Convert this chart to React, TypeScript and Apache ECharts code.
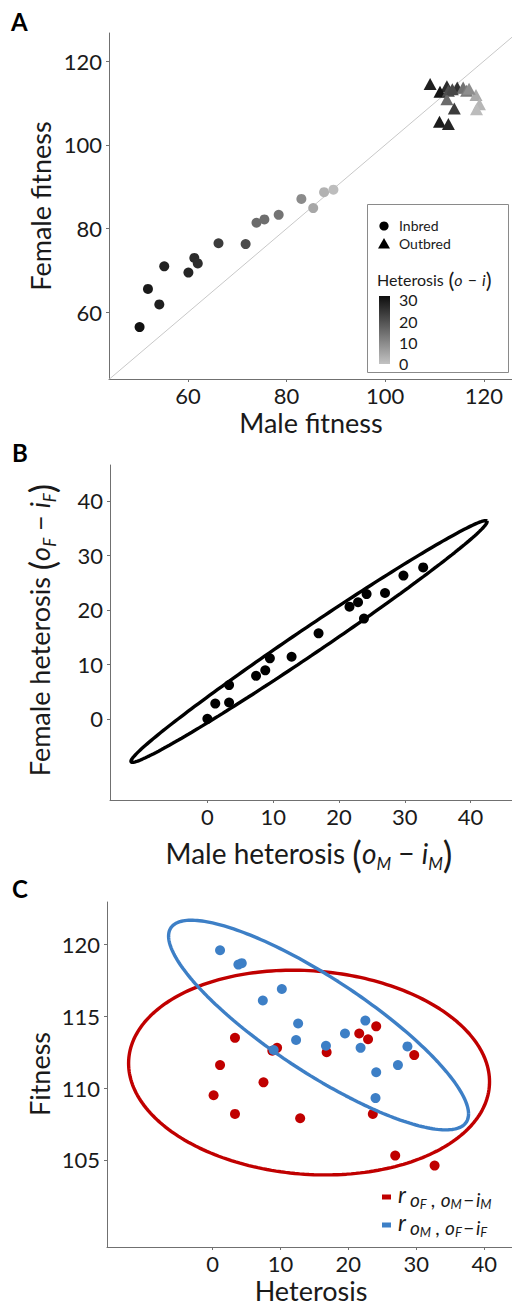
import React, { useEffect, useRef } from "react";
import * as echarts from "echarts";

const FONT = "Lato";
const INK = "#1a1a1a";
const AXIS_GREY = "#707070";

// ---------- Panel A : fitness of inbred (circles) and outbred (triangles) lines
const inbredMaleFitness = [50.2, 51.9, 54.2, 55.2, 60.1, 61.3, 62.0, 66.2, 71.7, 73.9, 75.5, 78.4, 83.0, 85.4, 87.6, 89.5];
const inbredFemaleFitness = [56.5, 65.6, 61.9, 71.0, 69.5, 73.0, 71.7, 76.5, 76.3, 81.4, 82.2, 83.3, 87.1, 84.9, 88.7, 89.3];
const inbredHeterosis = [30.5, 29, 28, 27.5, 27, 26, 25.5, 23, 20.5, 15, 14.5, 13.5, 9.5, 4.7, 2.8, 0.9];
const outbredMaleFitness = [109.1, 112.5, 111.1, 114.6, 112.8, 115.8, 116.5, 118.4, 119.1, 118.5, 112.5, 114.0, 111.0, 112.8, 113.6, 117.0];
const outbredFemaleFitness = [114.5, 114.0, 112.7, 113.7, 112.9, 113.7, 112.9, 111.9, 109.7, 108.5, 110.9, 108.7, 105.5, 105.0, 113.3, 113.4];
const outbredHeterosis = [28, 26, 30, 25, 20, 14, 12, 4, 2, 1, 15, 23, 29, 27, 21, 9];
const fitnessTicksA = [60, 80, 100, 120];
const diagonalA = [44, 127];
const colorbarTicks = [30, 20, 10, 0];

// ---------- Panel B : male vs female heterosis
const maleHeterosis = [32.8, 29.8, 27.0, 24.2, 22.9, 21.6, 23.8, 16.9, 12.8, 9.5, 8.8, 7.4, 3.3, 1.2, 3.3, 0.0];
const femaleHeterosis = [27.8, 26.3, 23.1, 22.9, 21.4, 20.6, 18.4, 15.7, 11.4, 11.1, 8.9, 7.9, 6.2, 2.8, 3.0, 0.0];
const heterosisTicks = [0, 10, 20, 30, 40];
const ellipseBCenter = [15.45, 14.2];
const ellipseBAxis1 = [27.05, 22.1];
const ellipseBAxis2 = [1.11, -1.98];

// ---------- Panel C : fitness vs heterosis
const redHeterosis = [3.3, 8.8, 9.5, 16.8, 21.6, 22.9, 24.1, 29.7, 1.1, 7.5, 0.15, 3.3, 12.9, 23.6, 26.9, 32.7];
const redFitness = [113.5, 112.6, 112.8, 112.5, 113.8, 113.4, 114.3, 112.3, 111.6, 110.4, 109.5, 108.2, 107.9, 108.2, 105.3, 104.6];
const blueHeterosis = [1.1, 3.8, 4.3, 7.4, 10.2, 12.6, 12.3, 9.0, 16.7, 19.5, 22.5, 21.8, 28.7, 27.3, 24.1, 24.0];
const blueFitness = [119.6, 118.6, 118.7, 116.1, 116.9, 114.5, 113.35, 112.65, 112.95, 113.8, 114.7, 112.8, 112.9, 111.6, 111.1, 109.3];
const fitnessTicksC = [105, 110, 115, 120];
const ellipseRedCenter = [14.21, 111.08];
const ellipseRedAxis1 = [26.58, -0.64];
const ellipseRedAxis2 = [0, 7.1];
const ellipseBlueCenter = [15.61, 114.39];
const ellipseBlueAxis1 = [22.09, -6.19];
const ellipseBlueAxis2 = [0, 3.87];

const RED = "#c00000";
const BLUE = "#3d7fc6";

function ellipsePoints(c: number[], a: number[], b: number[], n = 240) {
  const pts: number[][] = [];
  for (let i = 0; i <= n; i++) {
    const t = (2 * Math.PI * i) / n;
    pts.push([c[0] + a[0] * Math.cos(t) + b[0] * Math.sin(t), c[1] + a[1] * Math.cos(t) + b[1] * Math.sin(t)]);
  }
  return pts;
}

type Piece = { t: string; size: number; italic?: boolean; bold?: boolean; dy?: number };

let measureCtx: CanvasRenderingContext2D | null = null;
function textWidth(t: string, font: string) {
  if (!measureCtx) measureCtx = document.createElement("canvas").getContext("2d");
  measureCtx!.font = font;
  return measureCtx!.measureText(t).width;
}

function mathText(
  pieces: Piece[],
  x: number,
  y: number,
  opts: { rotate?: boolean; align?: "left" | "center"; color?: string } = {}
) {
  const fonts = pieces.map((p) => `${p.italic ? "italic " : ""}${p.bold ? "bold " : ""}${p.size}px ${FONT}`);
  const widths = pieces.map((p, i) => textWidth(p.t, fonts[i]));
  const total = widths.reduce((s, w) => s + w, 0);
  let cx = opts.align === "left" ? 0 : -total / 2;
  const children: any[] = [];
  pieces.forEach((p, i) => {
    if (p.t.trim() !== "") {
      children.push({
        type: "text",
        x: cx,
        y: (p.dy || 0) - 0.38 * p.size,
        style: { text: p.t, font: fonts[i], fill: opts.color || INK, align: "left", verticalAlign: "middle" },
      });
    }
    cx += widths[i];
  });
  return { type: "group", x, y, rotation: opts.rotate ? Math.PI / 2 : 0, children, silent: true };
}

function valueAxis(gridIndex: number, min: number, max: number, ticks: number[], isX: boolean) {
  return {
    type: "value",
    gridIndex,
    min,
    max,
    splitLine: { show: false },
    axisLine: { show: true, onZero: false, lineStyle: { color: AXIS_GREY, width: 1 } },
    axisTick: { show: true, length: 3, lineStyle: { color: AXIS_GREY }, customValues: ticks },
    axisLabel: {
      customValues: ticks,
      fontFamily: FONT,
      fontSize: 22,
      color: INK,
      margin: isX ? 5 : 7,
    },
  };
}

// r with a nested subscript, e.g. r_{o_F, o_M - i_M}
function legendCRow(first: string, second: string, baseline: number) {
  return mathText(
    [
      { t: "r", size: 23, italic: true },
      { t: " ", size: 16 },
      { t: "o", size: 19, italic: true, dy: 4 },
      { t: first, size: 13, italic: true, dy: 6 },
      { t: " ", size: 16 },
      { t: ",", size: 19, dy: 4 },
      { t: " ", size: 22 },
      { t: "o", size: 19, italic: true, dy: 4 },
      { t: second, size: 13, italic: true, dy: 6 },
      { t: " ", size: 6 },
      { t: "−", size: 19, dy: 4 },
      { t: " ", size: 6 },
      { t: "i", size: 19, italic: true, dy: 4 },
      { t: second, size: 13, italic: true, dy: 6 },
    ],
    398,
    baseline,
    { align: "left" }
  );
}

function buildOption() {
  const inbredData = inbredMaleFitness.map((m, i) => [m, inbredFemaleFitness[i], inbredHeterosis[i]]);
  const outbredData = outbredMaleFitness.map((m, i) => [m, outbredFemaleFitness[i], outbredHeterosis[i]]);
  const bData = maleHeterosis.map((m, i) => [m, femaleHeterosis[i]]);
  const redData = redHeterosis.map((h, i) => [h, redFitness[i]]);
  const blueData = blueHeterosis.map((h, i) => [h, blueFitness[i]]);

  const sub = (t: string, dy = 6): Piece => ({ t, size: 17, italic: true, dy });

  const graphic: any[] = [
    // panel letters
    mathText([{ t: "A", size: 24, bold: true }], 11, 31, { align: "left", color: "#000" }),
    mathText([{ t: "B", size: 24, bold: true }], 12, 462, { align: "left", color: "#000" }),
    mathText([{ t: "C", size: 24, bold: true }], 12, 898, { align: "left", color: "#000" }),
    // axis titles A
    mathText([{ t: "Female fitness", size: 27 }], 51, 206, { rotate: true }),
    mathText([{ t: "Male fitness", size: 27 }], 311, 433),
    // axis titles B
    mathText(
      [
        { t: "Female heterosis", size: 27 },
        { t: " ", size: 27 },
        { t: "(", size: 35, dy: 4 },
        { t: "o", size: 27, italic: true },
        sub("F"),
        { t: " ", size: 27 },
        { t: "−", size: 27 },
        { t: " ", size: 27 },
        { t: "i", size: 27, italic: true },
        sub("F"),
        { t: ")", size: 35, dy: 4 },
      ],
      50,
      630,
      { rotate: true }
    ),
    mathText(
      [
        { t: "Male heterosis", size: 28 },
        { t: " ", size: 28 },
        { t: "(", size: 36, dy: 4 },
        { t: "o", size: 28, italic: true },
        sub("M"),
        { t: " ", size: 28 },
        { t: "−", size: 28 },
        { t: " ", size: 28 },
        { t: "i", size: 28, italic: true },
        sub("M"),
        { t: ")", size: 36, dy: 4 },
      ],
      309,
      864
    ),
    // axis titles C
    mathText([{ t: "Fitness", size: 27 }], 50, 1074, { rotate: true }),
    mathText([{ t: "Heterosis", size: 27 }], 311, 1301),
    // legend A
    {
      type: "rect",
      shape: { x: 367.5, y: 204.5, width: 141, height: 168 },
      style: { fill: "#fff", stroke: "#8a8a8a", lineWidth: 1 },
      silent: true,
    },
    { type: "circle", shape: { cx: 384, cy: 226, r: 4.6 }, style: { fill: "#000" }, silent: true },
    {
      type: "polygon",
      shape: { points: [[384, 238], [378, 248.5], [390, 248.5]] },
      style: { fill: "#000" },
      silent: true,
    },
    mathText([{ t: "Inbred", size: 14 }], 399, 231.3, { align: "left" }),
    mathText([{ t: "Outbred", size: 14 }], 399, 248.8, { align: "left" }),
    mathText(
      [
        { t: "Heterosis", size: 16 },
        { t: " ", size: 18 },
        { t: "(", size: 22, dy: 2 },
        { t: "o", size: 16, italic: true },
        { t: " ", size: 20 },
        { t: "−", size: 16 },
        { t: " ", size: 20 },
        { t: "i", size: 16, italic: true },
        { t: ")", size: 22, dy: 2 },
      ],
      377,
      286,
      { align: "left" }
    ),
    {
      type: "rect",
      shape: { x: 379, y: 296, width: 11, height: 68 },
      style: {
        fill: {
          type: "linear",
          x: 0,
          y: 0,
          x2: 0,
          y2: 1,
          colorStops: [
            { offset: 0, color: "#0e0e0e" },
            { offset: 1, color: "#c2c2c2" },
          ],
        },
      },
      silent: true,
    },
    ...colorbarTicks.map((v, i) => mathText([{ t: String(v), size: 16 }], 399, 306 + i * 21.3, { align: "left" })),
    // legend C
    { type: "line", shape: { x1: 382, y1: 1197, x2: 391, y2: 1197 }, style: { stroke: RED, lineWidth: 5 }, silent: true },
    { type: "line", shape: { x1: 382, y1: 1225, x2: 391, y2: 1225 }, style: { stroke: BLUE, lineWidth: 5 }, silent: true },
    legendCRow("F", "M", 1203),
    legendCRow("M", "F", 1231),
  ];

  return {
    animation: false,
    backgroundColor: "#ffffff",
    textStyle: { fontFamily: FONT },
    grid: [
      { left: 109, top: 33, width: 403, height: 346 },
      { left: 110, top: 465, width: 402, height: 335 },
      { left: 107, top: 902, width: 405, height: 345 },
    ],
    xAxis: [
      valueAxis(0, 44.0, 125.7, fitnessTicksA, true),
      valueAxis(1, -14.8, 46.3, heterosisTicks, true),
      valueAxis(2, -15.55, 44.1, heterosisTicks, true),
    ],
    yAxis: [
      valueAxis(0, 44.1, 126.7, fitnessTicksA, false),
      valueAxis(1, -14.9, 46.6, heterosisTicks, false),
      valueAxis(2, 98.93, 122.96, fitnessTicksC, false),
    ],
    visualMap: {
      type: "continuous",
      show: false,
      seriesIndex: [1, 2],
      dimension: 2,
      min: 0,
      max: 31,
      inRange: { color: ["#c2c2c2", "#0e0e0e"] },
    },
    series: [
      {
        type: "line",
        xAxisIndex: 0,
        yAxisIndex: 0,
        data: [
          [diagonalA[0], diagonalA[0]],
          [diagonalA[1], diagonalA[1]],
        ],
        showSymbol: false,
        symbol: "none",
        lineStyle: { color: "#c8c8c8", width: 1 },
        z: 1,
        silent: true,
      },
      {
        type: "scatter",
        xAxisIndex: 0,
        yAxisIndex: 0,
        data: inbredData,
        symbol: "circle",
        symbolSize: 10,
        itemStyle: { opacity: 1 },
        z: 3,
      },
      {
        type: "scatter",
        xAxisIndex: 0,
        yAxisIndex: 0,
        data: outbredData,
        symbol: "triangle",
        symbolSize: [13, 12],
        itemStyle: { opacity: 1 },
        z: 3,
      },
      {
        type: "scatter",
        xAxisIndex: 1,
        yAxisIndex: 1,
        data: bData,
        symbol: "circle",
        symbolSize: 10,
        itemStyle: { color: "#000", opacity: 1 },
        z: 3,
      },
      {
        type: "line",
        xAxisIndex: 1,
        yAxisIndex: 1,
        data: ellipsePoints(ellipseBCenter, ellipseBAxis1, ellipseBAxis2),
        showSymbol: false,
        symbol: "none",
        lineStyle: { color: "#000", width: 3.4 },
        z: 4,
        silent: true,
      },
      {
        type: "scatter",
        xAxisIndex: 2,
        yAxisIndex: 2,
        data: redData,
        symbol: "circle",
        symbolSize: 10,
        itemStyle: { color: RED, opacity: 1 },
        z: 3,
      },
      {
        type: "scatter",
        xAxisIndex: 2,
        yAxisIndex: 2,
        data: blueData,
        symbol: "circle",
        symbolSize: 10,
        itemStyle: { color: BLUE, opacity: 1 },
        z: 3,
      },
      {
        type: "line",
        xAxisIndex: 2,
        yAxisIndex: 2,
        data: ellipsePoints(ellipseRedCenter, ellipseRedAxis1, ellipseRedAxis2),
        showSymbol: false,
        symbol: "none",
        lineStyle: { color: RED, width: 3.4 },
        z: 4,
        silent: true,
      },
      {
        type: "line",
        xAxisIndex: 2,
        yAxisIndex: 2,
        data: ellipsePoints(ellipseBlueCenter, ellipseBlueAxis1, ellipseBlueAxis2),
        showSymbol: false,
        symbol: "none",
        lineStyle: { color: BLUE, width: 3.4 },
        z: 4,
        silent: true,
      },
    ],
    graphic,
  };
}

export default function App() {
  const ref = useRef<HTMLDivElement>(null);
  useEffect(() => {
    document.body.style.margin = "0";
    const chart = echarts.init(ref.current!, null, { renderer: "svg" });
    chart.setOption(buildOption() as any);
    return () => chart.dispose();
  }, []);
  return <div ref={ref} style={{ width: 512, height: 1306 }} />;
}
